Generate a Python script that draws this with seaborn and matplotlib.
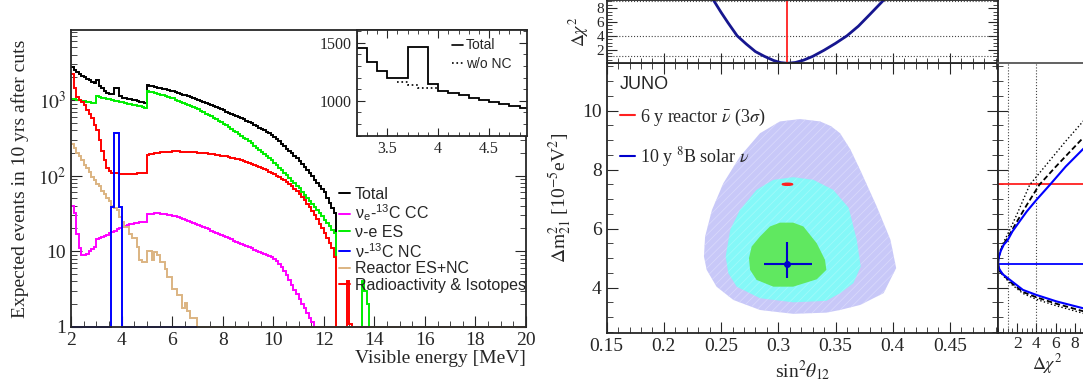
import numpy as np
import matplotlib
matplotlib.use("Agg")
import matplotlib.pyplot as plt
import seaborn as sns
from matplotlib.ticker import (MultipleLocator, FixedLocator, FixedFormatter,
                               LogLocator, NullFormatter, FormatStrFormatter)
from matplotlib.lines import Line2D
from matplotlib.patches import Ellipse

# ---------------- left panel: expected spectra, 0.1 MeV bins from 2 MeV
E_START = 2.0
BIN = 0.1

total = [2750, 2480, 2340, 2220, 2110, 2010, 1920, 1830, 1750, 1670,
         1850, 1560, 1452, 1336, 1259, 1196, 1196, 1466, 1466, 1141,
         1083, 1069, 1049, 1023, 1006, 993, 972, 955, 937, 920,
         1585, 1556, 1528, 1500, 1472, 1445, 1419, 1393, 1368, 1343,
         1312, 1279, 1247, 1216, 1186, 1156, 1127, 1099, 1072, 1045,
         1014, 982, 951, 920, 891, 863, 836, 809, 783, 759,
         733, 708, 684, 661, 638, 617, 596, 575, 556, 537,
         516, 494, 473, 453, 434, 415, 397, 380, 364, 348,
         327, 305, 284, 264, 246, 229, 213, 199, 185, 172,
         158, 144, 131, 119, 108, 98, 89, 81, 73, 66,
         60, 51, 44, 37, 32]

cc = [40, 32, 17, 11, 9, 9, 9.3, 10, 10.7, 11.4,
      14.3, 14.8, 15.3, 15.8, 16.5, 17.2, 18, 18.7, 19.5, 20.2,
      21, 21.5, 22, 22.6, 23.2, 23.5, 23.8, 24.1, 24.4, 24.6,
      31, 31.3, 31.5, 31.6, 31.6, 31.5, 31.3, 31, 30.6, 30.2,
      29.7, 29.1, 28.5, 27.8, 27.1, 26.3, 25.5, 24.7, 23.9, 23,
      22.2, 21.5, 20.8, 20.1, 19.5, 18.8, 18.2, 17.6, 17, 16.4,
      15.8, 15.3, 14.8, 14.3, 13.8, 13.3, 12.9, 12.5, 12.1, 11.7,
      11.3, 10.9, 10.5, 10.2, 9.9, 9.6, 9.3, 9.0, 8.7, 8.4,
      8.0, 7.5, 6.8, 6.1, 5.5, 4.9, 4.2, 3.6, 3.1, 2.7,
      2.3, 2.0, 1.75, 1.5, 1.3, 1.15]

es = [1050, 1035, 1020, 1005, 990, 975, 960, 945, 930, 915,
      1120, 1100, 1080, 1060, 1040, 1022, 1004, 986, 968, 951,
      934, 918, 902, 886, 871, 856, 841, 827, 813, 800,
      1334, 1303, 1274, 1245, 1216, 1189, 1161, 1135, 1109, 1084,
      1054, 1021, 989, 957, 927, 897, 869, 841, 815, 789,
      759, 726, 695, 665, 637, 610, 583, 558, 535, 512,
      489, 463, 440, 417, 395, 375, 356, 337, 320, 303,
      286, 268, 251, 236, 221, 207, 194, 182, 171, 160,
      149, 138, 127, 118, 109, 101, 93, 86, 80, 74,
      68, 61.5, 56, 51, 46, 42, 38, 35, 32, 29,
      26, 23.7, 21.4, 19.3, 17.5, 0, 0, 0, 0, 0,
      0, 0, 0, 0, 0, 4.0, 3.0, 2.0]

nc = [0] * 16 + [39, 363, 363, 39] + [0] * 30          # 2 - 7 MeV range

reactor = [267, 230, 200, 185, 160, 137, 125, 113, 95, 87,
           78, 72, 63, 58, 50, 46, 40, 37, 35, 28.5,
           24.5, 21, 21, 17, 14.8, 14.8, 11.4, 7.6, 7.2, 7.2,
           10, 10, 7.6, 9.8, 8.9, 7.2, 7.2, 5.9, 4.6, 4.6,
           3.2, 3.2, 2.6, 2.6, 1.75, 2.04, 1.6, 1.3, 1.3, 1.3]

radio = [2200, 1450, 1105, 1000, 940, 860, 735, 650, 590, 466,
         400, 300, 210, 160, 128, 115, 110, 108, 107, 106,
         106, 106, 105, 105, 106, 106, 107, 107, 108, 108,
         188, 192, 195, 198, 201, 203, 205, 207, 208, 209,
         210, 210, 210, 209, 209, 208, 207, 205, 204, 203,
         201, 200, 198, 197, 195, 193, 191, 189, 187, 185,
         183, 180, 177, 174, 171, 168, 164, 160, 156, 152,
         148, 144, 140, 136, 132, 128, 123, 118, 113, 108,
         104, 99, 95, 91, 87, 82, 77, 72, 67, 62,
         57, 52, 47, 42, 38, 34, 30, 27, 23, 20,
         17.5, 15, 13, 11, 8.5, 0, 0, 0, 0, 4.0,
         1.1]

total_wo_nc = [1164, 1135, 1115, 1109]                  # 3.6 - 4.0 MeV (inset)
wo_nc_edges = [3.6, 3.7, 3.8, 3.9, 4.0]

# ---------------- right panel: 8B solar vs reactor
s12_scan = [0.240, 0.244, 0.250, 0.256, 0.264, 0.272, 0.280, 0.288, 0.296, 0.302, 0.308,
            0.315, 0.322, 0.330, 0.340, 0.350, 0.360, 0.370, 0.380, 0.391, 0.396]
dchi2_s12 = [10.0, 9.0, 7.4, 5.9, 4.0, 2.8, 1.7, 1.0, 0.4, 0.1, 0.0,
             0.12, 0.45, 1.0, 1.9, 2.9, 4.0, 5.4, 7.1, 9.0, 10.0]

dchi2_blue = [10.2, 8.85, 6.1, 4.0, 2.6, 1.25, 0.5, 0.15, 0.0, 0.1, 0.3,
              0.6, 1.0, 1.5, 2.2, 3.0, 4.0, 5.4, 7.05, 8.85, 10.2]
dm2_blue = [3.22, 3.3, 3.53, 3.75, 3.92, 4.26, 4.45, 4.62, 4.8, 5.05, 5.25,
            5.45, 5.6, 5.9, 6.22, 6.58, 6.97, 7.48, 8.1, 8.69, 9.1]
dchi2_dash = [10.2, 8.85, 6.1, 4.0, 2.6, 1.25, 0.2, 0.0, 0.1, 0.3, 0.6,
              1.0, 2.0, 3.0, 4.3, 6.0, 8.85, 10.2]
dm2_dash = [3.13, 3.2, 3.45, 3.67, 3.85, 4.2, 4.55, 4.8, 5.05, 5.28, 5.48,
            5.68, 6.25, 6.8, 7.48, 8.09, 9.07, 9.45]
dchi2_dot = [10.2, 8.85, 6.1, 4.0, 2.6, 1.25, 0.2, 0.0, 0.1, 0.3, 0.6,
             1.0, 2.0, 3.3, 5.0, 7.0, 8.85, 10.2]
dm2_dot = [3.07, 3.13, 3.38, 3.6, 3.8, 4.15, 4.53, 4.8, 5.1, 5.32, 5.55,
           5.8, 6.5, 7.48, 8.15, 8.94, 9.63, 10.05]

c3_s12 = [0.235, 0.236, 0.242, 0.252, 0.2665, 0.284, 0.3015, 0.319, 0.3365, 0.346,
          0.354, 0.363, 0.3715, 0.386, 0.398, 0.403, 0.392, 0.3715, 0.354, 0.342,
          0.313, 0.284, 0.2607, 0.246, 0.2374]
c3_dm2 = [5.05, 5.73, 6.63, 7.54, 8.44, 9.23, 9.63, 9.71, 9.63, 9.47,
          9.23, 8.68, 7.99, 6.75, 5.62, 4.66, 3.81, 3.41, 3.24, 3.15,
          3.11, 3.24, 3.58, 4.03, 4.6]
c2_s12 = [0.254, 0.258, 0.2665, 0.281, 0.2957, 0.313, 0.3306, 0.348, 0.3615, 0.3685,
          0.372, 0.3656, 0.354, 0.342, 0.313, 0.284, 0.2636, 0.2563]
c2_dm2 = [5.05, 5.96, 6.63, 7.31, 7.65, 7.74, 7.65, 7.31, 6.7, 5.62,
          4.71, 4.15, 3.81, 3.55, 3.5, 3.64, 4.03, 4.49]
c1_s12 = [0.2744, 0.2767, 0.284, 0.2927, 0.3015, 0.313, 0.3219, 0.3336, 0.3408, 0.342,
          0.3336, 0.313, 0.2957, 0.281, 0.2753]
c1_dm2 = [5.0, 5.39, 5.73, 6.07, 6.2, 6.2, 6.07, 5.5, 4.94, 4.6,
          4.28, 4.03, 4.03, 4.26, 4.6]

best_s12, best_dm2 = 0.308, 4.8
s12_err = [0.0203, 0.0217]
dm2_err = [0.48, 0.76]
reactor_s12, reactor_dm2 = 0.308, 7.5

# ---------------- style
sns.set_style("ticks")
plt.rcParams.update({
    "font.family": ["Liberation Serif", "DejaVu Serif"],
    "mathtext.fontset": "stix",
    "axes.linewidth": 1.3,
    "hatch.linewidth": 0.6,
})
SANS = ["Liberation Sans", "DejaVu Sans"]

fig = plt.figure(figsize=(10.83, 3.85), dpi=100)
ax = fig.add_axes([0.0656, 0.1514, 0.4201, 0.7706])
axin = fig.add_axes([0.3294, 0.6475, 0.1570, 0.2745])
axm = fig.add_axes([0.5602, 0.1343, 0.3613, 0.7013])
axt = fig.add_axes([0.5602, 0.8356, 0.3613, 0.1644])
axr = fig.add_axes([0.9215, 0.1343, 0.09, 0.7013])

NB = 180
edges = np.round(E_START + BIN * np.arange(NB + 1), 2)


def draw_hist(a, vals, color, nbins=NB, lw=1.4, clip=False, **kw):
    v = np.zeros(nbins)
    v[:len(vals)] = vals
    a.stairs(np.clip(v, 1, None), edges[:nbins + 1], baseline=None,
             color=color, lw=lw, clip_on=clip, **kw)


col = {"total": "black", "cc": "#ff00ff", "es": "#00ee00", "nc": "#0000ff",
       "reactor": "#dcb482", "radio": "#ff0000"}

draw_hist(ax, total, col["total"])
draw_hist(ax, cc, col["cc"])
draw_hist(ax, es, col["es"])
draw_hist(ax, radio, col["radio"])
draw_hist(ax, reactor, col["reactor"])
draw_hist(ax, nc, col["nc"], nbins=50)

ax.set_xlim(2, 20)
ax.set_yscale("log")
ax.set_ylim(1, 8500)
ax.xaxis.set_major_locator(MultipleLocator(2))
ax.xaxis.set_minor_locator(MultipleLocator(0.5))
ax.yaxis.set_major_locator(FixedLocator([1, 10, 100, 1000]))
ax.yaxis.set_major_formatter(FixedFormatter(["1", "10", "$10^2$", "$10^3$"]))
ax.yaxis.set_minor_locator(LogLocator(subs=np.arange(2, 10)))
ax.yaxis.set_minor_formatter(NullFormatter())
ax.tick_params(which="both", direction="in", right=True, top=False, labelsize=14)
ax.tick_params(which="major", length=8)
ax.tick_params(which="minor", length=4)
ax.set_xlabel("Visible energy [MeV]", fontsize=14, loc="right", labelpad=1)
ax.set_ylabel("Expected events in 10 yrs after cuts", fontsize=14, labelpad=6)

leg_labels = ["Total", "ν$_\\mathregular{e}$-$^\\mathregular{13}$C CC", "ν-e ES",
              "ν-$^\\mathregular{13}$C NC", "Reactor ES+NC", "Radioactivity & Isotopes"]
leg_cols = [col["total"], col["cc"], col["es"], col["nc"], col["reactor"], col["radio"]]
handles = [Line2D([], [], color=c, lw=1.4) for c in leg_cols]
ax.legend(handles, leg_labels, loc="upper left", bbox_to_anchor=(0.588, 0.472),
          frameon=False, prop={"family": SANS, "size": 11.5}, handlelength=0.7,
          handletextpad=0.3, labelspacing=0.1, borderaxespad=0, borderpad=0)

# inset
axin.set_facecolor("white")
draw_hist(axin, total, "black", lw=1.3, clip=True)
axin.stairs(total_wo_nc, wo_nc_edges, baseline=None, color="black", lw=1.2, ls=":")
axin.set_xlim(3.2, 4.87)
axin.set_ylim(700, 1610)
axin.xaxis.set_major_locator(FixedLocator([3.5, 4, 4.5]))
axin.xaxis.set_major_formatter(FormatStrFormatter("%g"))
axin.xaxis.set_minor_locator(MultipleLocator(0.1))
axin.yaxis.set_major_locator(FixedLocator([1000, 1500]))
axin.yaxis.set_minor_locator(MultipleLocator(100))
axin.tick_params(which="both", direction="in", top=True, right=True, labelsize=11.5)
axin.tick_params(which="major", length=6)
axin.tick_params(which="minor", length=3)
axin.legend([Line2D([], [], color="k", lw=1.2), Line2D([], [], color="k", lw=1.2, ls=":")],
            ["Total", "w/o NC"], loc="upper left", bbox_to_anchor=(0.56, 0.92),
            frameon=False, prop={"family": SANS, "size": 10}, handlelength=0.8,
            handletextpad=0.2, labelspacing=0.35, borderaxespad=0, borderpad=0)

# ---------------- right main: contours
axm.fill(c3_s12, c3_dm2, facecolor="#c8c8f8", edgecolor="#d8d8fb", lw=0, hatch="////")
axm.fill(c2_s12, c2_dm2, facecolor="#84f8f8", edgecolor="#a0fafa", lw=0, hatch="////")
axm.fill(c1_s12, c1_dm2, facecolor="#60e860", edgecolor="#60e860", lw=0)
axm.add_patch(Ellipse((reactor_s12, reactor_dm2), 0.009, 0.07, color="#ff2020"))
axm.errorbar(best_s12, best_dm2, xerr=[[s12_err[0]], [s12_err[1]]],
             yerr=[[dm2_err[0]], [dm2_err[1]]], fmt="o", color="#0000cc",
             ms=4, lw=1.5, capsize=0)
axm.set_xlim(0.15, 0.492)
axm.set_ylim(2.45, 11.6)
axm.xaxis.set_major_locator(MultipleLocator(0.05))
axm.xaxis.set_major_formatter(FormatStrFormatter("%g"))
axm.xaxis.set_minor_locator(MultipleLocator(0.01))
axm.yaxis.set_major_locator(MultipleLocator(2))
axm.yaxis.set_minor_locator(MultipleLocator(0.5))
axm.tick_params(which="both", direction="in", top=True, right=True, labelsize=14)
axm.tick_params(which="major", length=8)
axm.tick_params(which="minor", length=4)
axm.set_xlabel(r"sin$^2\theta_{12}$", fontsize=14, labelpad=2)
axm.set_ylabel(r"$\Delta\mathrm{m}^2_{21}$ [10$^{-5}$eV$^2$]", fontsize=14, labelpad=6)
axm.text(0.034, 0.92, "JUNO", transform=axm.transAxes, fontsize=13,
         family=SANS, ha="left", va="center")
axm.legend([Line2D([], [], color="#ff2020", lw=1.5), Line2D([], [], color="#0000cc", lw=1.5)],
           [r"6 y reactor $\bar{\nu}$ (3$\sigma$)", r"10 y $^8$B solar $\nu$"],
           loc="upper left", bbox_to_anchor=(0.035, 0.84), frameon=False, fontsize=13,
           handlelength=0.8, handletextpad=0.3, labelspacing=0.95,
           borderaxespad=0, borderpad=0)

# ---------------- top: chi2 vs sin^2
for lvl in (1, 4, 9):
    axt.axhline(lvl, color="#444444", lw=0.8, ls=":")
sns.lineplot(x=s12_scan, y=dchi2_s12, ax=axt, color="#16168f", lw=2,
             sort=False, estimator=None)
axt.axvline(reactor_s12, color="#ff2020", lw=1.3)
axt.set_xlim(0.15, 0.492)
axt.set_ylim(0, 9.2)
axt.xaxis.set_major_locator(MultipleLocator(0.05))
axt.xaxis.set_minor_locator(MultipleLocator(0.01))
axt.set_xticklabels([])
axt.yaxis.set_major_locator(FixedLocator([2, 4, 6, 8]))
axt.yaxis.set_minor_locator(MultipleLocator(0.5))
axt.tick_params(which="both", direction="in", top=False, right=True, labelsize=11, pad=2)
axt.tick_params(which="major", length=7)
axt.tick_params(which="minor", length=3.5)
axt.set_ylabel(r"$\Delta\chi^2$", fontsize=13, labelpad=4)

# ---------------- right strip: chi2 vs dm2
axr.axvline(1, color="#444444", lw=0.8, ls=":")
axr.axvline(4, color="#444444", lw=0.8, ls=":")
axr.axhline(reactor_dm2, color="#ff2020", lw=1.3)
axr.axhline(best_dm2, color="#0000ff", lw=1.3)
axr.plot(dchi2_dot, dm2_dot, color="black", lw=1.0, ls=":")
axr.plot(dchi2_dash, dm2_dash, color="black", lw=1.3, ls=(0, (3, 1.6)))
sns.lineplot(x=dchi2_blue, y=dm2_blue, ax=axr, color="#0000ff", lw=1.5,
             sort=False, estimator=None)
axr.set_xlim(0, 10.15)
axr.set_ylim(2.45, 11.6)
axr.xaxis.set_major_locator(FixedLocator([2, 4, 6, 8]))
axr.xaxis.set_minor_locator(MultipleLocator(0.5))
axr.yaxis.set_major_locator(MultipleLocator(2))
axr.yaxis.set_minor_locator(MultipleLocator(0.5))
axr.set_yticklabels([])
axr.tick_params(which="both", direction="in", labelsize=12.5, pad=2)
axr.tick_params(which="major", length=7)
axr.tick_params(which="minor", length=3.5)
axr.spines["top"].set_color("#555555")
axr.set_xlabel(r"$\Delta\chi^2$", fontsize=13, labelpad=0)

fig.savefig("out.png", dpi=100)
